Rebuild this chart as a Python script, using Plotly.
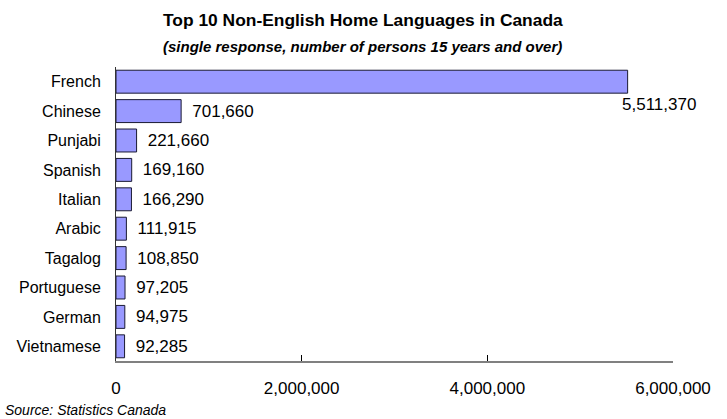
import plotly.graph_objects as go

languages = ["French", "Chinese", "Punjabi", "Spanish", "Italian", "Arabic",
             "Tagalog", "Portuguese", "German", "Vietnamese"]
persons = [5511370, 701660, 221660, 169160, 166290, 111915,
           108850, 97205, 94975, 92285]
x_ticks = [0, 2000000, 4000000, 6000000]
x_tick_labels = ["0", "2,000,000", "4,000,000", "6,000,000"]

FONT = "Liberation Sans, Arial, sans-serif"
NUM_SIZE = 17

labels = [f"{v:,}" for v in persons]
bar_text = [""] + ["\u00a0\u2009" + s for s in labels[1:]]

fig = go.Figure()
fig.add_trace(go.Bar(
    x=persons, y=languages, orientation="h",
    marker=dict(color="#9999FF", line=dict(color="#1a1a33", width=1)),
    text=bar_text, textposition="outside", cliponaxis=False,
    textfont=dict(family=FONT, size=NUM_SIZE, color="#000000"),
    width=0.78, hoverinfo="skip",
))

# French label sits below the bar end (as in the original)
fig.add_annotation(x=persons[0], y=languages[0], xref="x", yref="y",
                   text=labels[0], showarrow=False, xanchor="left",
                   xshift=-8, yshift=-23,
                   font=dict(family=FONT, size=NUM_SIZE, color="#000000"))

fig.add_annotation(x=0.5, y=1, xref="paper", yref="paper", yanchor="middle",
                   xshift=-32, yshift=47,
                   text="<b>Top 10 Non-English Home Languages in Canada</b>",
                   showarrow=False, font=dict(family=FONT, size=17.4, color="#000"))
fig.add_annotation(x=0.5, y=1, xref="paper", yref="paper", yanchor="middle",
                   xshift=-32, yshift=21,
                   text="<b><i>(single response, number of persons 15 years and over)</i></b>",
                   showarrow=False, font=dict(family=FONT, size=15, color="#000"))
fig.add_annotation(x=0, y=0, xref="paper", yref="paper", yanchor="middle",
                   xanchor="left", xshift=-113, yshift=-49,
                   text="<i>Source: Statistics Canada</i>",
                   showarrow=False, font=dict(family=FONT, size=14, color="#000"))

fig.update_layout(
    width=727, height=419,
    margin=dict(l=116, r=54, t=67, b=58, autoexpand=False),
    paper_bgcolor="white", plot_bgcolor="white",
    showlegend=False,
    font=dict(family=FONT, size=16, color="#000"),
    xaxis=dict(range=[0, 6000000], tickvals=x_ticks, ticktext=x_tick_labels,
               showgrid=False, zeroline=False, showline=True, automargin=False,
               linecolor="#808080", linewidth=2, ticks="inside",
               tickcolor="#000", ticklen=6, ticklabelstandoff=11,
               tickfont=dict(family=FONT, size=NUM_SIZE)),
    yaxis=dict(range=[9.5, -0.5], showgrid=False, zeroline=False,
               showline=True, linecolor="#333333", linewidth=1, automargin=False,
               ticks="", ticklabelstandoff=11,
               tickfont=dict(family=FONT, size=16)),
)

fig.write_html("out.html", config={"displayModeBar": False},
               post_script="document.body.style.margin='0';")
